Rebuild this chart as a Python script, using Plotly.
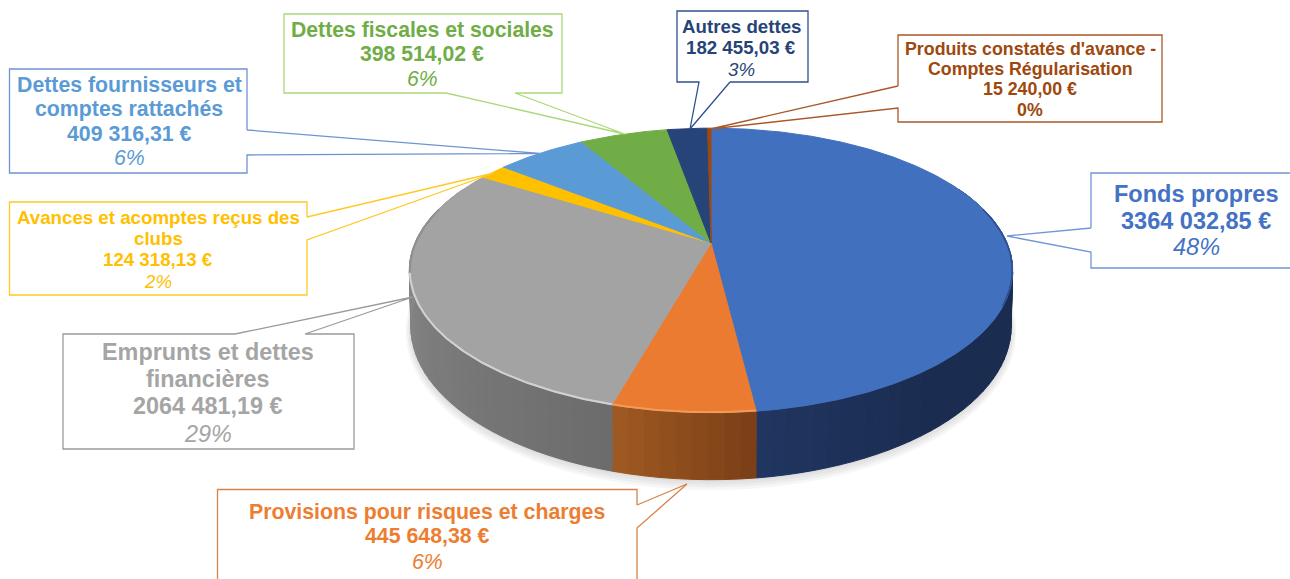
import math
import plotly.graph_objects as go

# ---------- data ----------
categories = ["Fonds propres", "Provisions pour risques et charges", "Emprunts et dettes financières",
              "Avances et acomptes reçus des clubs", "Dettes fournisseurs et comptes rattachés",
              "Dettes fiscales et sociales", "Autres dettes", "Produits constatés d'avance - Comptes Régularisation"]
values = [3364032.85, 445648.38, 2064481.19, 124318.13, 409316.31, 398514.02, 182455.03, 15240.00]
label_lines = [["Fonds propres"], ["Provisions pour risques et charges"], ["Emprunts et dettes", "financières"],
               ["Avances et acomptes reçus des", "clubs"], ["Dettes fournisseurs et", "comptes rattachés"],
               ["Dettes fiscales et sociales"], ["Autres dettes"],
               ["Produits constatés d'avance -", "Comptes Régularisation"]]

# ---------- style ----------
top_colors = ["#4170bf", "#ea7b31", "#a3a3a3", "#ffc000", "#5b9bd5", "#70ad47", "#264478", "#9e480e"]
text_colors = ["#4472c4", "#ed7d31", "#a5a5a5", "#ffc000", "#5b9bd5", "#70ad47", "#264478", "#9e480e"]
border_colors = ["#7095d8", "#d9824a", "#9a9a9a", "#ffc926", "#6f93d2", "#a9d978", "#2f5090", "#a8582a"]
# wall colour at the slice's first angle -> last angle (clockwise)
wall_ramps = [((26, 44, 79), (32, 53, 96)), ((122, 62, 23), (160, 90, 34)), ((108, 108, 108), (146, 146, 146)),
              ((140, 105, 0), (140, 105, 0)), ((60, 100, 140), (60, 100, 140)), ((70, 110, 45), (70, 110, 45)),
              ((26, 44, 79), (26, 44, 79)), ((110, 50, 10), (110, 50, 10))]
FONT = "Liberation Sans"
callouts = [
    dict(box=(1091, 173, 1296, 268), ptr=((1091, 228), (1007, 236), (1091, 252)), side="left",
         cx=1196, ys=[194, 221, 247], size=23.5),
    dict(box=(217.5, 489.5, 637, 590), ptr=((637, 505), (687, 484), (637, 528)), side="right",
         cx=427, ys=[512, 536, 562], size=21.3),
    dict(box=(63, 334, 354, 449), ptr=((235, 334), (413, 297), (305, 334)), side="top",
         cx=208, ys=[352, 379, 406, 434], size=23.4),
    dict(box=(9.5, 202, 307, 295), ptr=((307, 217), (494, 173), (307, 240)), side="right",
         cx=158, ys=[217, 238, 259, 281], size=18.7),
    dict(box=(9.5, 69, 247, 173), ptr=((247, 130), (540, 153.5), (247, 155)), side="right",
         cx=129, ys=[85, 109, 134, 158], size=21.3),
    dict(box=(284, 14, 562, 93), ptr=((446, 93), (624.5, 134), (515, 93)), side="bottom",
         cx=422, ys=[29, 53, 78], size=21.2),
    dict(box=(677, 11, 808, 82), ptr=((699, 82), (690, 129), (730, 82)), side="bottom",
         cx=741, ys=[26, 47, 69], size=18.7),
    dict(box=(898, 35, 1162, 122), ptr=((898, 86), (710.5, 129), (898, 108)), side="left",
         cx=1030, ys=[49, 69, 89, 110], size=17.8),
]

# ---------- projection of the tilted pie ----------
CX, CY, RX, RY, K, DEPTH = 711, 243, 296, 137, 0.193, 54


def top_pt(theta, grow=0.0):
    u, v = math.sin(theta), math.cos(theta)
    d = 1 + K * v
    return CX + (RX + grow) * u / d, CY - (RY + grow) * v / d


def bot_pt(theta, grow=0.0, dy=0.0):
    x, y = top_pt(theta, grow)
    v = math.cos(theta)
    return CX + (x - CX) * 0.995, y + DEPTH / (1 + K * v) + dy


def arc(a0, a1, step=0.01):
    n = max(2, int(abs(a1 - a0) / step) + 1)
    return [a0 + (a1 - a0) * i / (n - 1) for i in range(n)]


def poly(fig, xs, ys, color, line=None):
    fig.add_trace(go.Scatter(x=xs + xs[:1], y=ys + ys[:1], mode="lines", fill="toself", fillcolor=color,
                             line=dict(color=line or color, width=1 if line else 0), hoverinfo="skip",
                             showlegend=False))


total = sum(values)
bounds = [0.0]
for v in values:
    bounds.append(bounds[-1] + v / total * 2 * math.pi)

fig = go.Figure()

# soft shadow below the drum
full = arc(0, 2 * math.pi)
for g in (7, 5.5, 4, 2.5, 1):
    pts = [bot_pt(t, g - 2, g * 0.6) for t in full]
    poly(fig, [p[0] for p in pts], [p[1] for p in pts], "rgba(90,90,90,0.055)", "rgba(0,0,0,0)")

# side wall
WALL_A0, WALL_A1 = math.radians(65), math.radians(295)
for i in range(len(values)):
    a0, a1 = max(bounds[i], WALL_A0), min(bounds[i + 1], WALL_A1)
    if a1 <= a0:
        continue
    c0, c1 = wall_ramps[i]
    n = max(1, int((a1 - a0) / 0.04))
    for j in range(n):
        s0 = a0 + (a1 - a0) * j / n
        s1 = a0 + (a1 - a0) * (j + 1) / n
        f = (j + 0.5) / n
        if i == 0:
            f = max(0.0, (f - 0.7) / 0.3)  # the front part only lightens near the orange slice
        col = tuple(round(c0[k] + (c1[k] - c0[k]) * f) for k in range(3))
        css = f"rgb{col}"
        ta = arc(s0, s1, 0.01)
        upper = [top_pt(t) for t in ta]
        lower = [bot_pt(t) for t in reversed(ta)]
        poly(fig, [p[0] for p in upper + lower], [p[1] for p in upper + lower], css, css)

# top faces
for i in range(len(values)):
    ta = arc(bounds[i], bounds[i + 1], 0.008)
    pts = [(CX, CY)] + [top_pt(t) for t in ta]
    poly(fig, [p[0] for p in pts], [p[1] for p in pts], top_colors[i], top_colors[i])

# bevel along the rim: highlight at the front, a darker edge at the far left
rim = [(bounds[1], bounds[2], "#f09a5c", 2.0), (bounds[2], math.radians(258), "#d2d2d2", 2.0),
       (math.radians(258), math.radians(285), "#8f8f8f", 2.0), (math.radians(75), math.radians(115), "#2c4f8f", 1.5)]
for a0, a1, col, w in rim:
    pts = [top_pt(t, -0.5) for t in arc(a0, a1, 0.01)]
    fig.add_trace(go.Scatter(x=[p[0] for p in pts], y=[p[1] for p in pts], mode="lines",
                             line=dict(color=col, width=w), hoverinfo="skip", showlegend=False))


# ---------- callouts ----------
def callout_path(c):
    x0, y0, x1, y1 = c["box"]
    p0, tip, p1 = c["ptr"]
    rest = {"top": [(x0, y0), (x0, y1), (x1, y1), (x1, y0)],
            "bottom": [(x0, y1), (x0, y0), (x1, y0), (x1, y1)],
            "left": [(x0, y1), (x1, y1), (x1, y0), (x0, y0)],
            "right": [(x1, y1), (x0, y1), (x0, y0), (x1, y0)]}[c["side"]]
    if c["side"] == "left":
        seq = [p0, tip, p1] + rest + [p0]
    elif c["side"] == "right":
        seq = [p1, tip, p0] + rest[::-1][::-1] + [p1]
        seq = [p0, tip, p1] + [(x1, y1), (x0, y1), (x0, y0), (x1, y0)] + [p0]
    else:
        seq = [p1, tip, p0] + rest + [p1]
    return [p[0] for p in seq], [p[1] for p in seq]


def fmt_euro(v):
    s = f"{v:.2f}".replace(".", ",")
    head, tail = s[:-6], s[-6:]
    return f"{head} {tail} €"


annotations = []
for i, c in enumerate(callouts):
    xs, ys = callout_path(c)
    fig.add_trace(go.Scatter(x=xs, y=ys, mode="lines", line=dict(color=border_colors[i], width=1.3),
                             hoverinfo="skip", showlegend=False))
    pct = f"{round(values[i] / total * 100)}%"
    lines = [f"<b>{t}</b>" for t in label_lines[i]] + [f"<b>{fmt_euro(values[i])}</b>"]
    lines.append(f"<b>{pct}</b>" if i == 7 else f"<i>{pct}</i>")
    for t, y in zip(lines, c["ys"]):
        annotations.append(dict(x=c["cx"], y=y, xref="x", yref="y", text=t, showarrow=False, xanchor="center",
                                yanchor="middle", font=dict(family=FONT, size=c["size"], color=text_colors[i])))

fig.update_layout(width=1290, height=579, margin=dict(l=0, r=0, t=0, b=0), paper_bgcolor="white",
                  plot_bgcolor="white", showlegend=False, annotations=annotations,
                  xaxis=dict(range=[0, 1290], visible=False, fixedrange=True),
                  yaxis=dict(range=[579, 0], visible=False, fixedrange=True))
fig.write_html("out.html", config=dict(displayModeBar=False),
               post_script="document.body.style.margin='0';document.body.style.overflow='hidden';")
